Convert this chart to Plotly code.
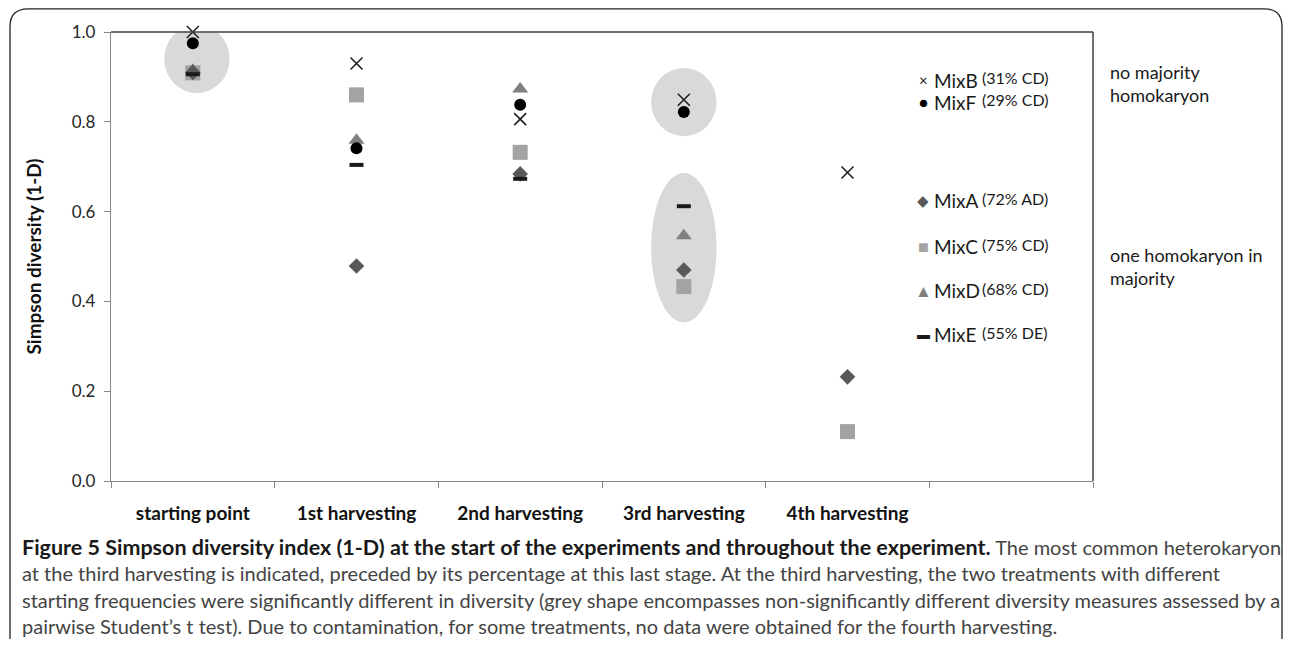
import plotly.graph_objects as go

# ---- data ----
categories = ["starting point", "1st harvesting", "2nd harvesting", "3rd harvesting", "4th harvesting", " "]
mixA = [0.910, 0.479, 0.684, 0.470, 0.232]
mixB = [1.000, 0.930, 0.806, 0.849, 0.687]
mixC = [0.909, 0.860, 0.732, 0.433, 0.110]
mixD = [0.915, 0.759, 0.873, 0.546, None]
mixE = [0.906, 0.704, 0.673, 0.612, None]
mixF = [0.975, 0.741, 0.838, 0.822, None]
y_ticks = [0.0, 0.2, 0.4, 0.6, 0.8, 1.0]

legend_names = ["MixB", "MixF", "MixA", "MixC", "MixD", "MixE"]
legend_notes = ["(31% CD)", "(29% CD)", "(72% AD)", "(75% CD)", "(68% CD)", "(55% DE)"]

FONT = "Lato"
OFF = 8                      # browser body margin
W, H = 1292 - 2 * OFF, 647 - 2 * OFF
L, R, T, B = 111 - OFF, 1093 - OFF, 32 - OFF, 481 - OFF


def px(x):                   # page pixel -> paper x
    return (x - OFF - L) / (R - L)


def py(y):                   # page pixel -> paper y
    return (B - (y - OFF)) / (B - T)


fig = go.Figure()

series = [
    ("MixC", mixC, dict(symbol="square", size=15, color="#A3A3A3")),
    ("MixD", mixD, dict(symbol="triangle-up", size=14, color="#808080")),
    ("MixA", mixA, dict(symbol="diamond", size=12, color="#595959")),
    ("MixE", mixE, dict(symbol="line-ew", size=10, color="#1a1a1a", line=dict(width=4, color="#1a1a1a"))),
    ("MixF", mixF, dict(symbol="circle", size=12, color="#000000")),
    ("MixB", mixB, dict(symbol="x-thin-open", size=12, color="#1a1a1a", line=dict(width=1.5, color="#1a1a1a"))),
]
for name, vals, mk in series:
    fig.add_trace(go.Scatter(
        x=categories[:len(vals)], y=vals, mode="markers", name=name,
        marker=mk, showlegend=False, cliponaxis=False,
    ))

# grey significance shapes
ell = dict(type="circle", xref="x", yref="y", fillcolor="#D9D9D9", line=dict(width=0), layer="below")
fig.add_shape(x0=-0.175, x1=0.225, y0=0.864, y1=1.016, **ell)
fig.add_shape(x0=2.8, x1=3.2, y0=0.768, y1=0.92, **ell)
fig.add_shape(x0=2.8, x1=3.2, y0=0.353, y1=0.686, **ell)

# plot box top/right lines
fig.add_shape(type="line", xref="paper", yref="paper", x0=0, x1=1, y0=1, y1=1, line=dict(color="#404040", width=1.5))
fig.add_shape(type="line", xref="paper", yref="paper", x0=1, x1=1, y0=0, y1=1, line=dict(color="#404040", width=1.5))

# outer rounded frame
x0, x1 = px(10), px(1282)
yt, yb = py(8.8), py(700)
rx, ry = 18 / (R - L), 18 / (B - T)
path = (f"M {x0},{yb} L {x0},{yt - ry} Q {x0},{yt} {x0 + rx},{yt} "
        f"L {x1 - rx},{yt} Q {x1},{yt} {x1},{yt - ry} L {x1},{yb}")
fig.add_shape(type="path", xref="paper", yref="paper", path=path, line=dict(color="#222222", width=1.3))

# legend-like labels
sym = ["×", "●", "◆", "■", "▲", "▬"]
sym_col = ["#1a1a1a", "#000000", "#595959", "#A3A3A3", "#808080", "#1a1a1a"]
sym_size = [15, 15, 15, 18, 17, 13]
leg_y = [80, 102, 200, 246, 290, 334]
for s, c, ss, n, note, yy in zip(sym, sym_col, sym_size, legend_names, legend_notes, leg_y):
    fig.add_annotation(xref="paper", yref="paper", x=px(923), y=py(yy), xanchor="center", yanchor="middle",
                       text=s, showarrow=False, font=dict(family=FONT, size=ss, color=c))
    fig.add_annotation(xref="paper", yref="paper", x=px(932), y=py(yy), xanchor="left", yanchor="middle",
                       text=n, showarrow=False, font=dict(family=FONT, size=19, color="#1a1a1a"))
    fig.add_annotation(xref="paper", yref="paper", x=px(980), y=py(yy - 2), xanchor="left", yanchor="middle",
                       text=note, showarrow=False, font=dict(family=FONT, size=16, color="#1a1a1a"))

fig.add_annotation(xref="paper", yref="paper", x=px(1108), y=py(83), xanchor="left", yanchor="middle",
                   text="no majority<br>homokaryon", align="left", showarrow=False,
                   font=dict(family=FONT, size=18, color="#1a1a1a"))
fig.add_annotation(xref="paper", yref="paper", x=px(1108), y=py(266), xanchor="left", yanchor="middle",
                   text="one homokaryon in<br>majority", align="left", showarrow=False,
                   font=dict(family=FONT, size=18, color="#1a1a1a"))

# caption
caption = [
    "<b><span style='font-size:21.5px;color:#1a1a1a'>Figure 5 Simpson diversity index (1-D) at the start of the experiments and throughout the experiment.</span></b> The most common heterokaryon",
    "at the third harvesting is indicated, preceded by its percentage at this last stage. At the third harvesting, the two treatments with different",
    "starting frequencies were significantly different in diversity (grey shape encompasses non-significantly different diversity measures assessed by a",
    "pairwise Student’s t test). Due to contamination, for some treatments, no data were obtained for the fourth harvesting.",
]
for i, line in enumerate(caption):
    fig.add_annotation(xref="paper", yref="paper", x=px(20), y=py(547 + 26.3 * i), xanchor="left", yanchor="middle",
                       text=line, showarrow=False, font=dict(family=FONT, size=20, color="#444444"))

fig.update_layout(
    width=W, height=H, autosize=False,
    margin=dict(l=L, r=W - R, t=T, b=H - B, pad=0),
    paper_bgcolor="white", plot_bgcolor="white",
    font=dict(family=FONT, color="#262626"),
    xaxis=dict(type="category", categoryorder="array", categoryarray=categories, range=[-0.5, 5.5],
               tickson="boundaries", ticks="outside", ticklen=6, tickcolor="#868686",
               showline=True, linecolor="#868686", linewidth=1.3, showgrid=False, zeroline=False,
               tickfont=dict(family=FONT, size=19, color="#111111", weight="bold"), ticklabelstandoff=15),
    yaxis=dict(range=[0, 1], tickvals=y_ticks, tickformat=".1f", ticks="outside", ticklen=6,
               tickcolor="#868686", showline=True, linecolor="#868686", linewidth=1.3,
               showgrid=False, zeroline=False, tickfont=dict(family=FONT, size=17, color="#262626"),
               ticklabelstandoff=5,
               title=dict(text="<b>Simpson diversity (1-D)</b>", font=dict(family=FONT, size=19, color="#111111"),
                          standoff=25)),
)

fig.write_html("out.html")
